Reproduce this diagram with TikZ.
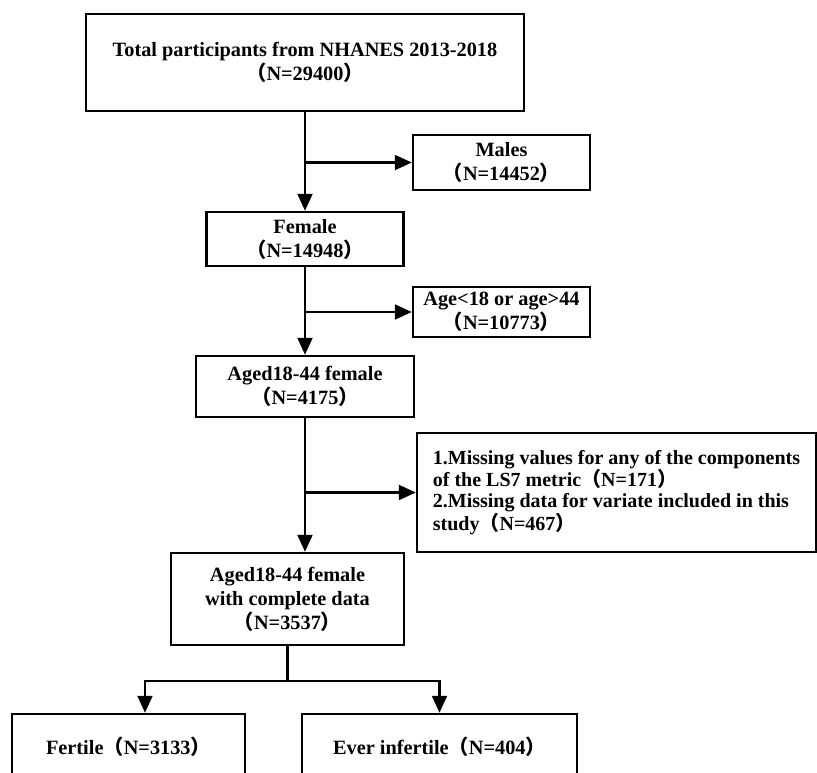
\documentclass[tikz,border=0pt]{standalone}
\usepackage{fontspec}
\setmainfont{Liberation Serif}
\newfontfamily\cjk{Noto Sans CJK SC}
\usetikzlibrary{arrows.meta}
\newcommand{\lpr}{{\cjk （}}
\newcommand{\rpr}{{\cjk ）}}

\begin{document}
\begin{tikzpicture}[node distance=170pt,
    box/.style={rectangle, draw, line width=2.5pt, inner sep=0pt, align=center,
        font=\fontsize{20.3pt}{24pt}\selectfont\bfseries},
    arr/.style={-{Triangle[length=17pt,width=15pt]}, line width=2.2pt}]
    \useasboundingbox (0,0) rectangle (817pt,-772pt);
    \clip (0,0) rectangle (817pt,-772pt);

    % Total
    \node[box, minimum width=438pt, minimum height=97pt] (total) at (305pt,-62.5pt) {
        Total participants from NHANES 2013-2018\\
        \lpr N=29400\rpr
    };

    % Female
    \node[box, minimum width=197pt, minimum height=54pt, below of=total, yshift=-6.5pt] (female) {
        Female\\
        \lpr N=14948\rpr
    };

    % Males
    \node[box, minimum width=177pt, minimum height=55pt, right of=female, xshift=26.5pt, yshift=76.5pt] (males) {
        Males\\
        \lpr N=14452\rpr
    };

    % Age
    \node[box, minimum width=177pt, minimum height=50pt, right of=female, xshift=26.5pt, yshift=-73pt] (age) {
        Age<18 or age>44\\
        \lpr N=10773\rpr
    };

    % Aged 18-44
    \node[box, minimum width=218pt, minimum height=61pt, below of=female, yshift=22.5pt] (aged) {
        Aged18-44 female\\
        \lpr N=4175\rpr
    };

    % Missing
    \node[box, minimum width=399pt, minimum height=119pt, align=left,
        font=\fontsize{20pt}{21pt}\selectfont\bfseries,
        right of=aged, xshift=141.5pt, yshift=-106pt] (missing) {
        1.Missing values for any of the components\\
        of the LS7 metric\lpr N=171\rpr\\
        2.Missing data for variate included in this\\
        study\lpr N=467\rpr
    };

    % Complete data
    \node[box, minimum width=233pt, minimum height=92pt, below of=aged, xshift=-17.5pt, yshift=-42.5pt] (complete) {
        Aged18-44 female\\
        with complete data\\
        \lpr N=3537\rpr
    };

    % Fertile
    \node[box, minimum width=233pt, minimum height=66pt, below of=complete, xshift=-159pt, yshift=22pt] (fertile) {
        Fertile\lpr N=3133\rpr
    };
    \node[box, minimum width=275pt, minimum height=66pt, right of=fertile, xshift=141pt] (infertile) {
        Ever infertile\lpr N=404\rpr
    };

    % Arrows
    \draw[arr] (total) -- (female);
    \draw[arr] (total.south |- males.west) -- (males.west);
    \draw[arr] (female) -- (aged);
    \draw[arr] (female.south |- age.west) -- (age.west);
    \draw[arr] (aged.south) -- (aged.south |- complete.north);
    \draw[arr] (aged.south |- missing.west) -- (missing.west);
    \draw[line width=2.2pt] (complete.south) -- ++(0,-35pt) coordinate (split);
    \draw[arr] (split) -| ([xshift=16.5pt]fertile.north);
    \draw[arr] (split) -| (infertile.north);

\end{tikzpicture}
\end{document}
